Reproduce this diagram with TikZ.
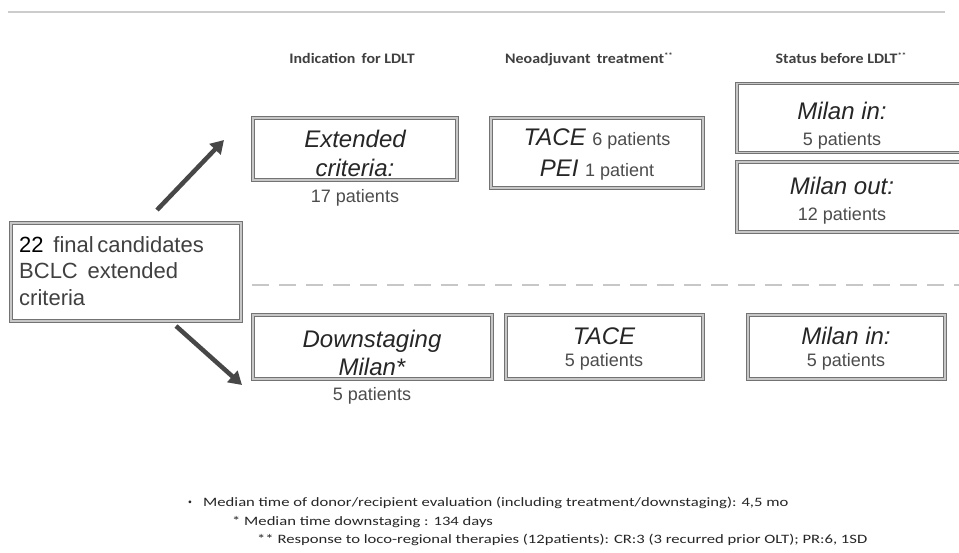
\documentclass[tikz,border=0pt]{standalone}
\usepackage{fontspec}
\setmainfont{Liberation Sans}
\newfontfamily\calfont{Carlito}
\usetikzlibrary{arrows.meta,calc}
\tikzset{
  box/.style={draw=black!55, line width=1.1pt, double=black!22, double distance=1.6pt, fill=white, inner sep=0pt},
  big/.style={font=\fontsize{24}{26}\selectfont\itshape, text=black!85, anchor=base, inner sep=0pt},
  small/.style={font=\fontsize{18}{20}\selectfont, text=black!70, anchor=base, inner sep=0pt},
  hdr/.style={font=\calfont\fontsize{14.5}{16}\selectfont\bfseries, text=black!75, anchor=base, inner sep=0pt},
  foot/.style={font=\calfont\fontsize{12.8}{14}\selectfont, text=black!85, anchor=base west, inner sep=0pt},
  arr/.style={draw=black!72, line width=4.5pt, -{Triangle[length=13pt,width=15pt]}},
}
\newcommand{\supst}{\raisebox{5pt}{\fontsize{8}{8}\selectfont **}}
\begin{document}
\begin{tikzpicture}[x=1pt,y=-1pt]
\clip (0,0) rectangle (959,552);
\fill[white] (0,0) rectangle (959,552);
% top line
\coordinate (tl) at (8,12);
\coordinate (tr) at (945,12);
\draw[black!20, line width=2pt] (tl) -- (tr);
% headers
\node[hdr] (h1) at (352,63) {\scalebox{1.1}[1]{Indication\, for LDLT}};
\node[hdr] (h2) at (589,63) {\scalebox{1.1}[1]{Neoadjuvant\, treatment\supst}};
\node[hdr] (h3) at (841,63) {\scalebox{1.1}[1]{Status before LDLT\supst}};
% left box
\node[box, minimum width=230pt, minimum height=98pt] (cand) at (126,272) {};
\node[anchor=base west, inner sep=0pt, font=\fontsize{22}{26.5}\selectfont, text=black!75, align=left] (candt) at (19,305)
  {\textcolor{black}{22}\, final\,candidates\\BCLC\, extended\\criteria};
% upper row
\node[box, minimum width=204pt, minimum height=62pt] (ext) at (355,149) {};
\node[big] (extt1) at (355,147) {Extended};
\node[big] (extt2) at (355,176) {criteria:};
\node[small] (extp) at (355,202) {17 patients};
\node[box, minimum width=212pt, minimum height=70pt] (tace1) at (597,153) {};
\node[anchor=base, inner sep=0pt] (tace1a) at (597,145) {\fontsize{24}{26}\selectfont\itshape\color{black!85}TACE\ \upshape\fontsize{18}{20}\selectfont\color{black!70}6 patients};
\node[anchor=base, inner sep=0pt] (tace1b) at (597,176) {\fontsize{24}{26}\selectfont\itshape\color{black!85}PEI\ \upshape\fontsize{18}{20}\selectfont\color{black!70}1 patient};
\node[box, minimum width=240pt, minimum height=69pt] (min1) at (857,118) {};
\node[big] (min1t) at (842,119) {Milan in:};
\node[small] (min1p) at (842,145) {5 patients};
\node[box, minimum width=240pt, minimum height=70pt] (mout) at (857,197) {};
\node[big] (moutt) at (842,194) {Milan out:};
\node[small] (moutp) at (842,220) {12 patients};
% dashed separator
\coordinate (dl) at (252,285);
\coordinate (dr) at (965,285);
\draw[black!22, line width=2pt, dash pattern=on 17pt off 10pt] (dl) -- (dr);
% lower row
\node[box, minimum width=239pt, minimum height=64pt] (down) at (372.5,347) {};
\node[big] (downt1) at (372,347) {Downstaging};
\node[big] (downt2) at (372,375) {Milan*};
\node[small] (downp) at (372,400) {5 patients};
\node[box, minimum width=197pt, minimum height=64pt] (tace2) at (604.5,347) {};
\node[big] (tace2t) at (604,344) {TACE};
\node[small] (tace2p) at (604,366) {5 patients};
\node[box, minimum width=197pt, minimum height=64pt] (min2) at (846.5,347) {};
\node[big] (min2t) at (846,344) {Milan in:};
\node[small] (min2p) at (846,366) {5 patients};
% arrows
\coordinate (a1s) at (157,210);
\coordinate (a1e) at (224,140);
\coordinate (a2s) at (176,326);
\coordinate (a2e) at (242,385);
\draw[arr] (a1s) -- (a1e);
\draw[arr] (a2s) -- (a2e);
% footnotes
\node[foot] (f0) at (188,504) {\scalebox{0.6}{\textbullet}};
\node[foot] (f1) at (203,506) {\scalebox{1.3}[1]{Median time of donor/recipient evaluation (including treatment/downstaging): 4,5 mo}};
\node[foot] (f2) at (232,525) {\scalebox{1.3}[1]{* Median time downstaging : 134 days}};
\node[foot] (f3) at (257,543) {\scalebox{1.3}[1]{** Response to loco-regional therapies (12patients): CR:3 (3 recurred prior OLT); PR:6, 1SD}};
\end{tikzpicture}
\end{document}
